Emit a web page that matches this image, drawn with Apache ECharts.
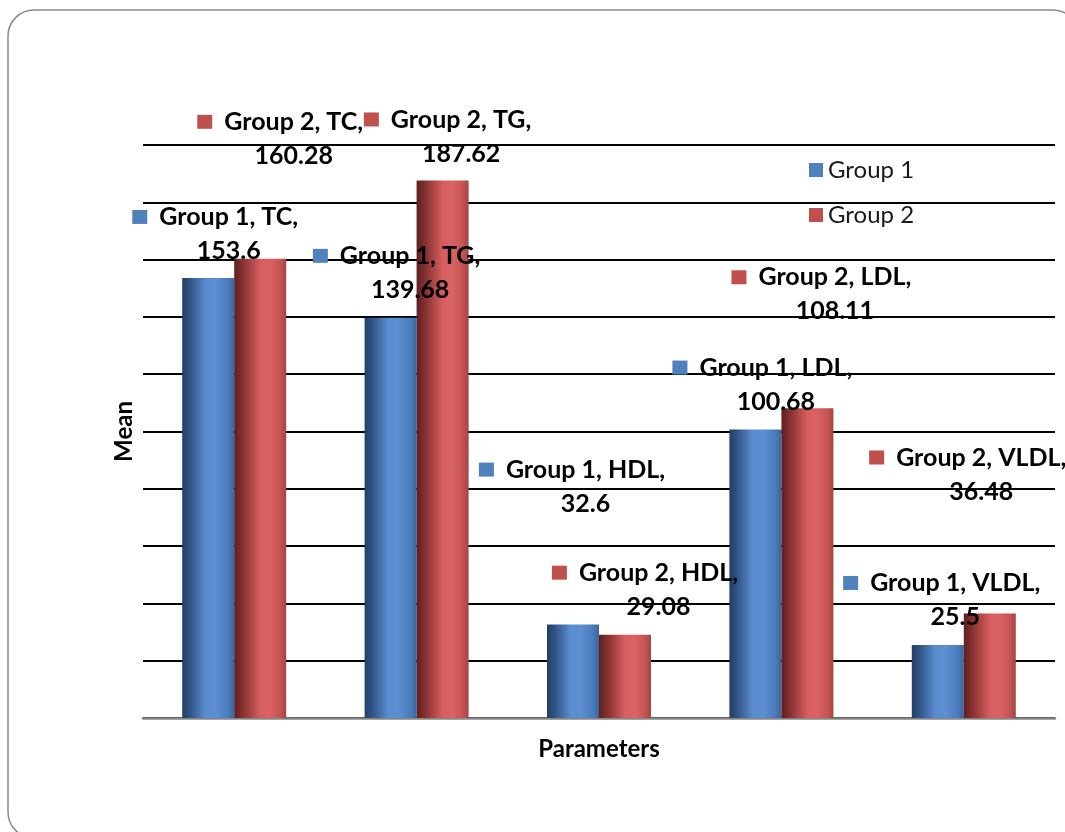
<!DOCTYPE html>
<html>
<head>
<meta charset="utf-8">
<script src="https://cdn.jsdelivr.net/npm/echarts@6/dist/echarts.min.js"></script>
<style>
  html, body { margin: 0; padding: 0; background: #ffffff; }
  #chart { width: 1065px; height: 832px; }
</style>
</head>
<body>
<div id="chart"></div>
<script>
// Lipid profile means for the two groups
const categories = ['TC', 'TG', 'HDL', 'LDL', 'VLDL'];
const seriesNames = ['Group 1', 'Group 2'];
const group1 = [153.6, 139.68, 32.6, 100.68, 25.5];
const group2 = [160.28, 187.62, 29.08, 108.11, 36.48];

// Label nudges [dx, dy] in pixels, measured from each bar's top centre
const group1LabelShift = [[7, -10], [6, -11], [-1, -104], [7, -11], [4, -11]];
const group2LabelShift = [[20, -86], [5, -10], [20, -11], [14, -80], [-22, -105]];

const FONT = 'Lato';
const LABEL_SIZE = 25;
const flatColors = ['#4f81bd', '#c0504d'];

// Cylinder-like horizontal shading for the bars
const barFills = [
  new echarts.graphic.LinearGradient(0, 0, 1, 0, [
    { offset: 0, color: '#223e66' },
    { offset: 0.18, color: '#35598c' },
    { offset: 0.45, color: '#5a8dcf' },
    { offset: 0.65, color: '#5b8fd2' },
    { offset: 0.88, color: '#4b7cbb' },
    { offset: 1, color: '#3b669f' }
  ]),
  new echarts.graphic.LinearGradient(0, 0, 1, 0, [
    { offset: 0, color: '#5e1f1f' },
    { offset: 0.2, color: '#8e3535' },
    { offset: 0.5, color: '#d65e5e' },
    { offset: 0.68, color: '#db6262' },
    { offset: 0.88, color: '#c65555' },
    { offset: 1, color: '#a44444' }
  ])
];

function labelRich(color) {
  const txt = { fontFamily: FONT, fontSize: LABEL_SIZE, fontWeight: 'bold', color: '#000', lineHeight: 34 };
  return {
    sq: { width: 15, height: 14, backgroundColor: color },
    t: Object.assign({ padding: [0, 0, 0, 12] }, txt),
    v: Object.assign({ padding: [0, 0, 0, 27] }, txt)
  };
}

function buildSeries(idx, values, shifts) {
  return {
    name: seriesNames[idx],
    type: 'bar',
    barWidth: 52,
    barGap: '0%',
    itemStyle: { color: barFills[idx] },
    data: values.map((v, i) => ({
      value: v,
      label: { offset: shifts[i] }
    })),
    label: {
      show: true,
      position: 'top',
      distance: 0,
      formatter: p => '{sq|}{t|' + p.seriesName + ', ' + p.name + ',}\n{v|' + p.value + '}',
      rich: labelRich(flatColors[idx])
    }
  };
}

const chart = echarts.init(document.getElementById('chart'));
chart.setOption({
  backgroundColor: '#ffffff',
  animation: false,
  graphic: [{
    type: 'rect',
    shape: { x: 8, y: 10, width: 1071, height: 828, r: 26 },
    style: { fill: 'none', stroke: '#8a8a8a', lineWidth: 1.5 },
    silent: true
  }],
  legend: {
    orient: 'vertical',
    left: 804,
    top: 152,
    itemWidth: 14,
    itemHeight: 14,
    itemGap: 19,
    icon: 'rect',
    textStyle: { fontFamily: FONT, fontSize: 24, color: '#1a1a1a', lineHeight: 26 },
    data: seriesNames.map((n, i) => ({ name: n, itemStyle: { color: flatColors[i] } }))
  },
  grid: { left: 143, right: 10, top: 145, bottom: 114 },
  xAxis: {
    type: 'category',
    data: categories,
    z: 1,
    axisLine: { lineStyle: { color: '#868686', width: 2.5 } },
    axisTick: { show: false },
    axisLabel: { show: false },
    name: 'Parameters',
    nameLocation: 'middle',
    nameGap: 19,
    nameTextStyle: { fontFamily: FONT, fontSize: 24, fontWeight: 'bold', color: '#000', verticalAlign: 'top' }
  },
  yAxis: {
    type: 'value',
    min: 0,
    max: 200,
    interval: 20,
    axisLine: { show: false },
    axisTick: { show: false },
    axisLabel: { show: false },
    splitLine: { lineStyle: { color: '#000', width: 2 } },
    name: 'Mean',
    nameLocation: 'middle',
    nameRotate: 90,
    nameGap: 7,
    nameTextStyle: { fontFamily: FONT, fontSize: 24, fontWeight: 'bold', color: '#000' }
  },
  series: [
    buildSeries(0, group1, group1LabelShift),
    buildSeries(1, group2, group2LabelShift)
  ]
});
</script>
</body>
</html>
